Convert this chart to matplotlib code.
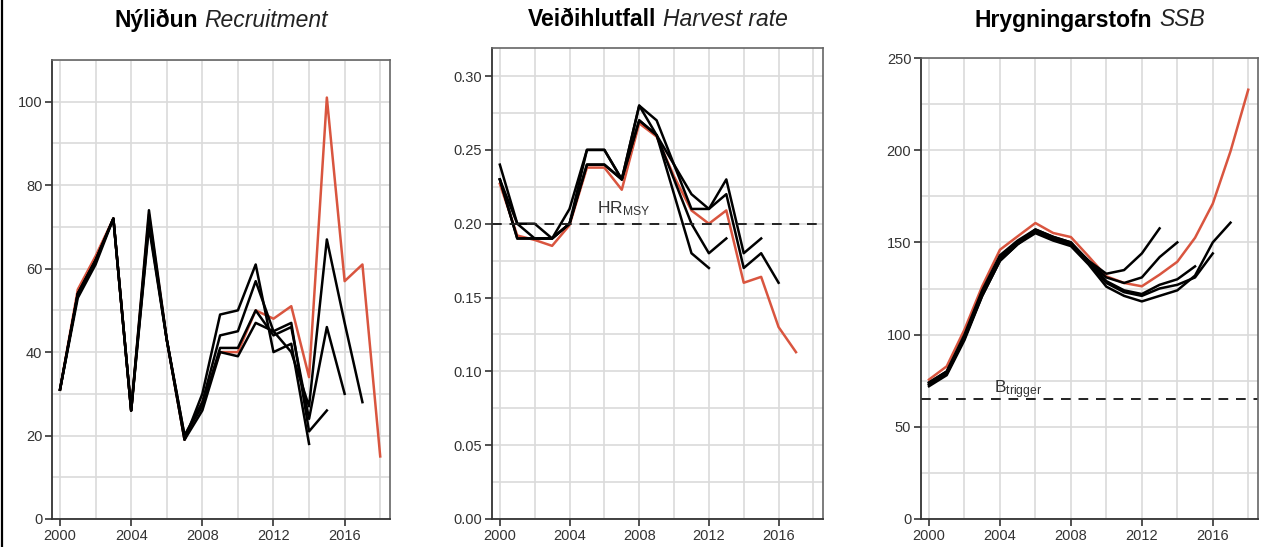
import matplotlib
matplotlib.use('Agg')
import matplotlib.pyplot as plt
from matplotlib.offsetbox import TextArea, HPacker, AnnotationBbox
from matplotlib.lines import Line2D

plt.rcParams['font.family'] = ['Liberation Sans', 'DejaVu Sans']
plt.rcParams['mathtext.fontset'] = 'custom'
plt.rcParams['mathtext.rm'] = 'Liberation Sans'
plt.rcParams['mathtext.it'] = 'Liberation Sans:italic'

# Nýliðun / Recruitment
rec_years = list(range(2000, 2019))
rec_final = [31, 55, 63, 72, 26, 73, 43, 19, 28, 40, 40, 50, 48, 51, 34, 101, 57, 61, 15]
rec_retro = [
    [31, 53, 61, 72, 26, 74, 43, 19, 30, 49, 50, 61, 40, 42, 18],
    [31, 54, 62, 72, 26, 72, 43, 20, 28, 44, 45, 57, 45, 47, 21, 26],
    [31, 54, 62, 72, 26, 71, 43, 20, 27, 41, 41, 50, 44, 46, 24, 46, 30],
    [31, 54, 62, 72, 26, 70, 43, 19, 26, 40, 39, 47, 45, 40, 27, 67, 47, 28],
]

# Veiðihlutfall / Harvest rate
hr_years = list(range(2000, 2018))
hr_final = [0.227, 0.192, 0.189, 0.185, 0.199, 0.238, 0.238, 0.223, 0.268, 0.259,
            0.232, 0.209, 0.200, 0.209, 0.160, 0.164, 0.130, 0.113]
hr_retro = [
    [0.23, 0.19, 0.19, 0.19, 0.20, 0.24, 0.24, 0.23, 0.27, 0.26, 0.22, 0.18, 0.17],
    [0.23, 0.19, 0.19, 0.19, 0.20, 0.24, 0.24, 0.23, 0.27, 0.26, 0.23, 0.20, 0.18, 0.19],
    [0.24, 0.20, 0.20, 0.19, 0.21, 0.25, 0.25, 0.23, 0.28, 0.27, 0.24, 0.22, 0.21, 0.23, 0.18, 0.19],
    [0.23, 0.20, 0.19, 0.19, 0.20, 0.25, 0.25, 0.23, 0.28, 0.26, 0.24, 0.21, 0.21, 0.22, 0.17, 0.18, 0.16],
]
hr_msy = 0.20

# Hrygningarstofn / SSB
ssb_years = list(range(2000, 2019))
ssb_final = [75.6, 82.8, 102.7, 126.2, 146, 153.3, 160.5, 155.1, 152.9, 142.4,
             131.6, 128, 126.2, 132.5, 139.5, 152.5, 171, 199.4, 232.8]
ssb_retro = [
    [72, 78, 97, 121, 140, 149, 156, 152, 149, 140, 133, 135, 144, 157.6],
    [73, 79, 98, 122, 141, 150, 156, 152, 149, 140, 131, 128, 131, 142, 150],
    [74, 80, 100, 124, 143, 151, 157, 153, 150, 140, 129, 124, 122, 127, 130, 137],
    [74, 80, 99, 123, 142, 150, 157, 153, 150, 139, 128, 123, 121, 125, 127, 131, 144],
    [73, 79, 98, 121, 140, 149, 155, 151, 148, 138, 126, 121, 118, 121, 124, 132, 150, 160.7],
]
b_trigger = 65

W, H = 1261, 547
red = '#d9553f'
fig = plt.figure(figsize=(W / 100, H / 100), dpi=100)
fig.add_artist(Line2D([0.0012, 0.0012], [0, 1], color='black', lw=1.6))


def make_axes(l, t, r, b):
    return fig.add_axes([l / W, (H - b) / H, (r - l) / W, (b - t) / H])


def style(ax, ylim, ymajor, yminor):
    ax.set_xlim(1999.55, 2018.55)
    ax.set_ylim(*ylim)
    ax.set_xticks(range(2000, 2019, 4))
    ax.set_xticks(range(2002, 2019, 4), minor=True)
    ax.set_yticks(ymajor)
    ax.set_yticks(yminor, minor=True)
    ax.grid(True, which='both', color='#dadada', lw=1.2)
    ax.set_axisbelow(True)
    ax.tick_params(which='minor', length=0)
    ax.tick_params(which='major', length=5, width=1.2, color='#333333',
                   labelsize=10.5, labelcolor='#333333', pad=2)
    for s in ['left', 'bottom']:
        ax.spines[s].set_color('#333333')
        ax.spines[s].set_linewidth(1.3)
    for s in ['top', 'right']:
        ax.spines[s].set_color('#666666')
        ax.spines[s].set_linewidth(1.2)


def title(ax, bold, italic):
    a = TextArea(bold, textprops=dict(fontsize=16.5, fontweight='bold', color='black'))
    b = TextArea(italic, textprops=dict(fontsize=16.5, style='italic', color='#222222'))
    box = HPacker(children=[a, b], align='baseline', pad=0, sep=5)
    ab = AnnotationBbox(box, (0.5, 1 - 20 / H), xycoords=('axes fraction', 'figure fraction'),
                        box_alignment=(0.5, 0.5), frameon=False)
    ax.add_artist(ab)


# panel 1
ax1 = make_axes(52, 60, 390, 519)
for r in rec_retro:
    ax1.plot(rec_years[:len(r)], r, color='black', lw=1.8)
ax1.plot(rec_years, rec_final, color=red, lw=1.8, zorder=1.9)
style(ax1, (0, 110), range(0, 101, 20), range(10, 111, 20))
title(ax1, 'Nýliðun', 'Recruitment')

# panel 2
ax2 = make_axes(492, 48, 823, 519)
for r in hr_retro:
    ax2.plot(hr_years[:len(r)], r, color='black', lw=1.8)
ax2.plot(hr_years, hr_final, color=red, lw=1.8, zorder=1.9)
ax2.axhline(hr_msy, color='#222222', lw=1.4, ls=(0, (5, 4)))
ax2.text(2007.1, 0.207, r'HR$_{\mathrm{MSY}}$', ha='center', va='baseline',
         fontsize=12.5, color='#333333')
style(ax2, (0, 0.319), [0, 0.05, 0.10, 0.15, 0.20, 0.25, 0.30],
      [0.025, 0.075, 0.125, 0.175, 0.225, 0.275])
ax2.set_yticklabels(['0.00', '0.05', '0.10', '0.15', '0.20', '0.25', '0.30'])
title(ax2, 'Veiðihlutfall', 'Harvest rate')

# panel 3
ax3 = make_axes(921, 58, 1258, 519)
for r in ssb_retro:
    ax3.plot(ssb_years[:len(r)], r, color='black', lw=1.8)
ax3.plot(ssb_years, ssb_final, color=red, lw=1.8, zorder=1.9)
ax3.axhline(b_trigger, color='#222222', lw=1.4, ls=(0, (5, 4)))
ax3.text(2005.0, 68, r'B$_{\mathrm{trigger}}$', ha='center', va='baseline',
         fontsize=12.5, color='#333333')
style(ax3, (0, 250), range(0, 251, 50), range(25, 251, 50))
title(ax3, 'Hrygningarstofn', 'SSB')

fig.savefig('out.png', dpi=100)
